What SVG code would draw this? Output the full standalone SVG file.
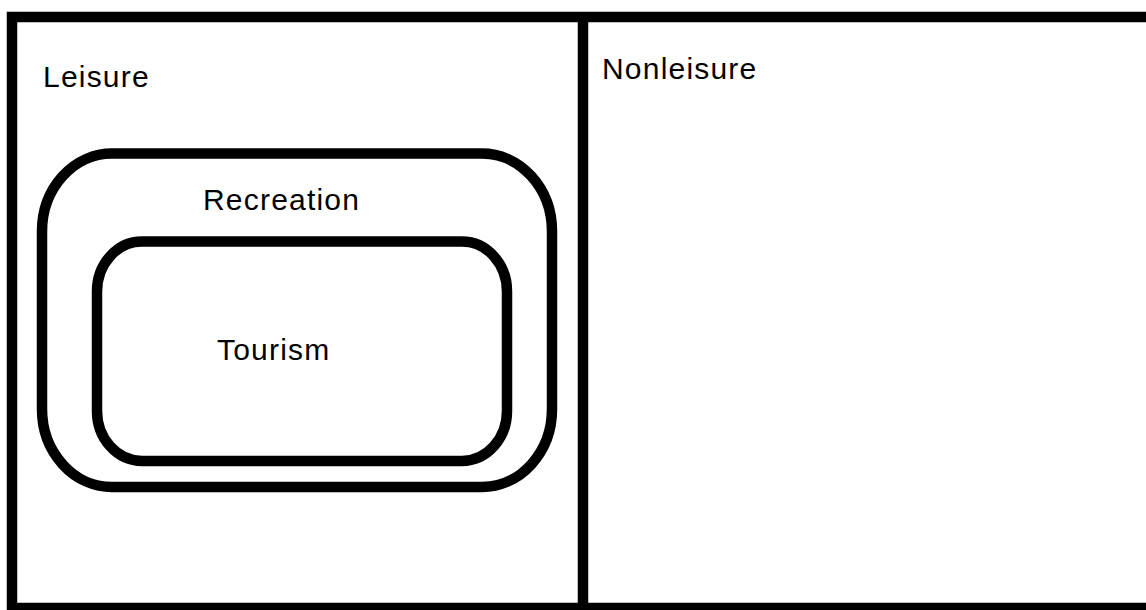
<svg xmlns="http://www.w3.org/2000/svg" width="1146" height="610" viewBox="0 0 1146 610">
<style>
.ln{fill:none;stroke:#000;stroke-width:10.5}
.t{font-family:"Liberation Sans",Arial,sans-serif;font-size:30px;letter-spacing:1.2px;fill:#000}
</style>
<rect width="1146" height="610" fill="#fff"/>
<g id="frame">
<path class="ln" d="M12,613 V17 H1150"/>
<line class="ln" x1="7" y1="608" x2="1150" y2="608"/>
</g>
<g id="leisure">
<text class="t" x="43" y="87">Leisure</text>
</g>
<g id="nonleisure">
<line class="ln" x1="583" y1="17" x2="583" y2="610"/>
<text class="t" x="602" y="79">Nonleisure</text>
</g>
<g id="recreation">
<rect class="ln" x="42" y="153.5" width="510" height="333.5" rx="70" ry="78"/>
<text class="t" x="203" y="210">Recreation</text>
</g>
<g id="tourism">
<rect class="ln" x="97" y="241.5" width="410" height="219.5" rx="45" ry="50"/>
<text class="t" x="217" y="360">Tourism</text>
</g>
</svg>
